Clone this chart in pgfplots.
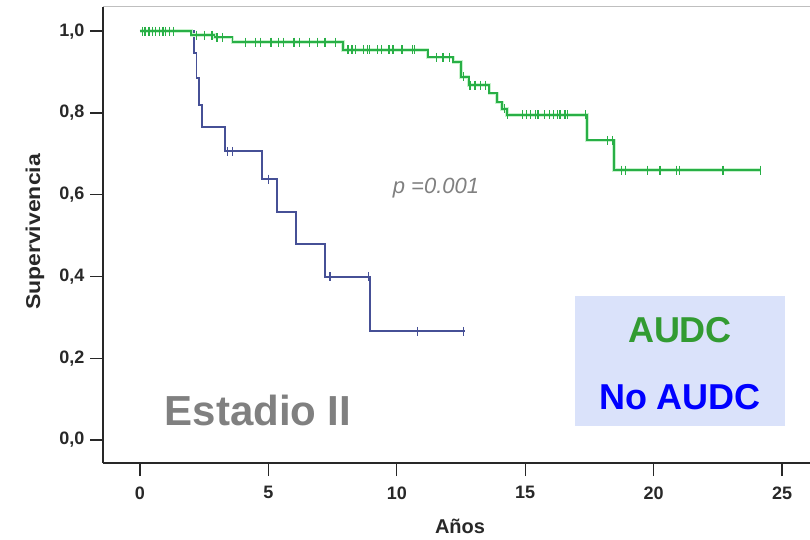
\documentclass[border=0pt]{standalone}
\usepackage{fontspec}
\setmainfont{Liberation Sans}
\usepackage{pgfplots}
\pgfplotsset{compat=1.18}
\definecolor{kmgreen}{RGB}{40,175,70}
\definecolor{kmhalo}{RGB}{200,242,205}
\definecolor{kmblue}{RGB}{70,80,150}
\definecolor{boxblue}{RGB}{218,226,250}
\definecolor{audcgreen}{RGB}{50,155,50}
\definecolor{txtgray}{RGB}{128,128,128}
\definecolor{lblack}{RGB}{40,40,40}
\begin{document}
\begin{tikzpicture}[x=1pt,y=1pt]
\useasboundingbox (0,0) rectangle (810,539);
\fill[boxblue] (575,113) rectangle (785,243);
\begin{axis}[
  at={(103pt,76pt)}, anchor=south west, scale only axis,
  width=707pt, height=456pt,
  xmin=-1.44, xmax=26.09, ymin=-0.056, ymax=1.059,
  axis x line*=bottom, axis y line*=left,
  axis line style={line width=1.8pt, lblack, -},
  tick align=outside, major tick length=13pt,
  tick style={line width=1.4pt, lblack},
  xtick={0,5,10,15,20,25}, ytick={0,0.2,0.4,0.6,0.8,1},
  /pgf/number format/.cd, fixed, use comma, assume math mode=true,
  /pgfplots/.cd,
  yticklabel style={font=\bfseries\fontsize{18}{18}\selectfont, text=lblack, xshift=-2pt,
    /pgf/number format/fixed zerofill, /pgf/number format/precision=1},
  xticklabel style={font=\bfseries\fontsize{18}{18}\selectfont, text=lblack, yshift=-7pt},
  clip=false,
]
% No AUDC
\addplot[const plot, kmblue, line width=1.8pt] coordinates {
(0,1.0) (2.1,0.946) (2.2,0.885) (2.3,0.82) (2.4,0.765) (3.3,0.706) (4.75,0.638)
(5.33,0.557) (6.07,0.479) (7.2,0.399) (8.96,0.266) (12.65,0.266)};
\addplot[only marks, mark=|, mark size=4.5pt, kmblue, mark options={line width=1.2pt}] coordinates {
(3.4,0.706) (3.6,0.706) (5.0,0.638) (7.4,0.399) (8.9,0.399) (10.8,0.266) (12.6,0.266)};
% AUDC halo
\addplot[const plot, kmhalo, line width=3.5pt] coordinates {
(0,1.0) (2.0,0.99) (2.9,0.985) (3.6,0.973) (7.9,0.954) (11.2,0.936) (12.2,0.924)
(12.5,0.888) (12.8,0.868) (13.6,0.848) (13.9,0.826) (14.1,0.81) (14.3,0.795)
(17.4,0.733) (18.45,0.66) (24.15,0.66)};
\addplot[const plot, kmgreen, line width=1.8pt] coordinates {
(0,1.0) (2.0,0.99) (2.9,0.985) (3.6,0.973) (7.9,0.954) (11.2,0.936) (12.2,0.924)
(12.5,0.888) (12.8,0.868) (13.6,0.848) (13.9,0.826) (14.1,0.81) (14.3,0.795)
(17.4,0.733) (18.45,0.66) (24.15,0.66)};
\addplot[only marks, mark=|, mark size=4.5pt, kmgreen, mark options={line width=1.3pt}] coordinates {
(0.1,1.0) (0.2,1.0) (0.35,1.0) (0.5,1.0) (0.6,1.0) (0.75,1.0) (0.9,1.0) (1.0,1.0) (1.15,1.0) (1.3,1.0)
(2.2,0.99) (2.5,0.99) (2.8,0.99) (3.0,0.985) (3.2,0.985)
(4.1,0.973) (4.5,0.973) (4.7,0.973) (5.1,0.973) (5.4,0.973) (5.6,0.973) (6.0,0.973) (6.2,0.973)
(6.6,0.973) (6.9,0.973) (7.2,0.973) (7.6,0.973)
(8.1,0.954) (8.25,0.954) (8.4,0.954) (8.7,0.954) (8.85,0.954) (8.95,0.954) (9.25,0.954) (9.4,0.954)
(9.7,0.954) (9.85,0.954) (10.2,0.954) (10.6,0.954) (10.7,0.954)
(11.55,0.936) (11.8,0.936) (12.05,0.936) (12.6,0.888)
(12.85,0.868) (13.05,0.868) (13.25,0.868) (13.45,0.868) (14.2,0.81)
(14.3,0.795) (14.9,0.795) (15.05,0.795) (15.2,0.795) (15.4,0.795) (15.5,0.795) (15.75,0.795)
(15.95,0.795) (16.1,0.795) (16.25,0.795) (16.35,0.795) (16.55,0.795) (16.65,0.795) (17.35,0.795)
(18.2,0.733) (18.4,0.733)
(18.75,0.66) (18.9,0.66) (19.75,0.66) (20.25,0.66) (20.9,0.66) (21.0,0.66) (22.7,0.66) (24.15,0.66)};
\draw[gray!50, line width=1pt] (rel axis cs:0,1) -- (rel axis cs:1,1);
\end{axis}
\node[rotate=90, font=\bfseries\fontsize{20}{20}\selectfont, text=lblack] at (35,307) {\scalebox{1.15}[1]{Supervivencia}};
\node[font=\bfseries\fontsize{20}{20}\selectfont, text=lblack] at (460,13) {Años};
\node[font=\itshape\fontsize{22}{22}\selectfont, text=txtgray] at (436,351) {p =0.001};
\node[font=\bfseries\fontsize{42}{42}\selectfont, text=txtgray] at (258,129) {Estadio II};
\node[font=\bfseries\fontsize{36}{36}\selectfont, text=audcgreen] at (680,209) {AUDC};
\node[font=\bfseries\fontsize{36}{36}\selectfont, text=blue] at (680,142) {No AUDC};
\end{tikzpicture}
\end{document}
